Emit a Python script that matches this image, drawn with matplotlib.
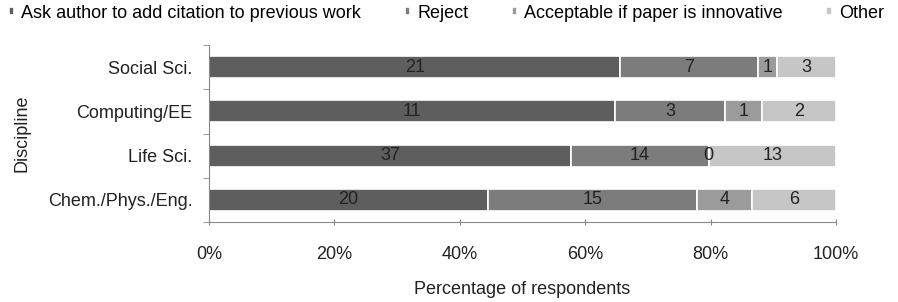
import matplotlib
matplotlib.use("Agg")
import matplotlib.pyplot as plt
import numpy as np

plt.rcParams['font.family'] = ['Liberation Sans', 'DejaVu Sans']

categories = ["Chem./Phys./Eng.", "Life Sci.", "Computing/EE", "Social Sci."]
series_names = ["Ask author to add citation to previous work", "Reject",
                "Acceptable if paper is innovative", "Other"]
ask_author = [20, 37, 11, 21]
reject = [15, 14, 3, 7]
acceptable = [4, 0, 1, 1]
other = [6, 13, 2, 3]
colors = ["#5e5e5e", "#7c7c7c", "#9b9b9b", "#c6c6c6"]

data = np.array([ask_author, reject, acceptable, other], dtype=float)
totals = data.sum(axis=0)
pct = data / totals * 100

FS = 13
TXT = "#222222"

fig = plt.figure(figsize=(8.98, 3.02), dpi=100)
ax = fig.add_axes([209/898, 1 - 222/302, (836-209)/898, (222-45)/302])

y = np.arange(len(categories))
left = np.zeros(len(categories))
handles = []
for i in range(4):
    b = ax.barh(y, pct[i], left=left, height=0.5, color=colors[i],
                edgecolor="white", linewidth=1.2, label=series_names[i])
    handles.append(b)
    for j in range(len(categories)):
        ax.text(left[j] + pct[i][j] / 2, y[j], f"{int(data[i][j])}",
                ha="center", va="center", fontsize=FS, color=TXT)
    left += pct[i]

ax.set_xlim(0, 100)
ax.set_ylim(-0.5, len(categories) - 0.5)
ax.set_yticks(y)
ax.set_yticklabels(categories, fontsize=FS, color=TXT)
ax.set_yticks(np.arange(-0.5, len(categories), 1), minor=True)
ax.tick_params(axis="y", which="major", length=0, pad=12)
ax.tick_params(axis="y", which="minor", length=4, color="#888888")
ax.set_xticks(np.arange(0, 101, 20))
ax.set_xticklabels([f"{v}%" for v in range(0, 101, 20)], fontsize=FS, color=TXT)
ax.tick_params(axis="x", length=4, color="#888888", direction="inout", pad=15)
for s in ["top", "right"]:
    ax.spines[s].set_visible(False)
for s in ["left", "bottom"]:
    ax.spines[s].set_color("#888888")
ax.set_xlabel("Percentage of respondents", fontsize=FS, color=TXT)
ax.xaxis.set_label_coords(0.5, -0.335)
ax.set_ylabel("Discipline", fontsize=FS, color=TXT)
ax.yaxis.set_label_coords(-0.285, 0.5)

fig.legend(handles=handles, labels=series_names, loc="center",
           bbox_to_anchor=(0.497, 1 - 13/302), ncol=4, frameon=False, fontsize=FS,
           handlelength=0.3, handleheight=0.3, handletextpad=0.4, columnspacing=2.4,
           borderpad=0, borderaxespad=0)

fig.savefig("out.png", dpi=100)
